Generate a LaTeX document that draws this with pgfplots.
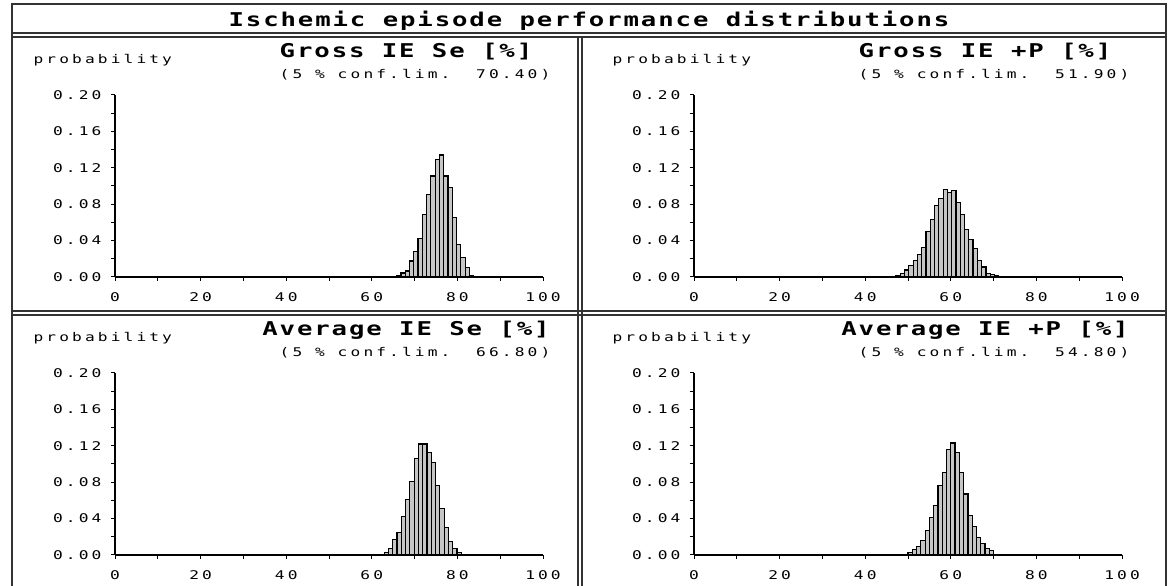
\documentclass[border=0pt]{standalone}
\usepackage{fontspec}
\usepackage{pgfplots}
\pgfplotsset{compat=1.18}
\newfontfamily\smallfont[FakeStretch=1.35,LetterSpace=26]{DejaVu Sans Mono}
\newfontfamily\bigfont[FakeStretch=1.35,LetterSpace=10]{DejaVu Sans Mono}
\newcommand\sm{\smallfont\fontsize{12}{14}\selectfont}
\newcommand\bg{\bigfont\bfseries\fontsize{19}{22}\selectfont}
\frenchspacing
\pgfplotsset{panel/.style={
  scale only axis, width=428pt, height=182pt,
  xmin=0, xmax=100, ymin=0, ymax=0.2,
  axis x line*=bottom, axis y line*=left,
  axis line style={line width=1.3pt, -},
  xtick={0,20,40,60,80,100}, minor xtick={10,30,50,70,90},
  ytick={0,0.04,0.08,0.12,0.16,0.2}, minor ytick={0.02,0.06,0.1,0.14,0.18},
  scaled y ticks=false,
  tick align=outside, major tick length=4pt, minor tick length=4pt,
  every tick/.style={black, line width=1pt},
  tick label style={font=\sm},
  /pgf/number format/assume math mode=true,
  yticklabel style={xshift=-6pt, /pgf/number format/.cd, fixed, fixed zerofill, precision=2},
  xticklabel style={yshift=-8pt, /pgf/number format/.cd, fixed, precision=0},
}}
\tikzset{bars/.style={ybar, bar width=1, fill=gray!45, draw=black, line width=1.2pt}}
\begin{document}
\begin{tikzpicture}[x=1pt,y=1pt]
\useasboundingbox (0,0) rectangle (1172,586);
\coordinate (P1) at (115,309);
\coordinate (P2) at (694,309);
\coordinate (P3) at (115,31);
\coordinate (P4) at (694,31);
% frame
\draw[line width=2pt, black!80] (12,-4) -- (12,582) -- (1166,582) -- (1166,-4);
\draw[line width=1.3pt, black!80] (12,553) -- (1166,553) (12,549) -- (1166,549);
\draw[line width=1.3pt, black!80] (578,549) -- (578,-4) (582,549) -- (582,-4);
\draw[line width=1.3pt, black!80] (12,275) -- (1166,275) (12,271) -- (1166,271);
\node[font=\bg, anchor=base] at (589,559) {Ischemic episode performance distributions};
% panel texts
\node[font=\sm, anchor=base west] at (30,522) {probability};
\node[font=\sm, anchor=base west] at (609,522) {probability};
\node[font=\sm, anchor=base west] at (30,244) {probability};
\node[font=\sm, anchor=base west] at (609,244) {probability};
\node[font=\bg, anchor=base] at (406,528) {Gross IE Se [\%]};
\node[font=\bg, anchor=base] at (985,528) {Gross IE +P [\%]};
\node[font=\bg, anchor=base] at (406,250) {Average IE Se [\%]};
\node[font=\bg, anchor=base] at (985,250) {Average IE +P [\%]};
\node[font=\sm, anchor=base] at (415,507.5) {(5 \% conf.lim.\ \ 70.40)};
\node[font=\sm, anchor=base] at (994,507.5) {(5 \% conf.lim.\ \ 51.90)};
\node[font=\sm, anchor=base] at (415,229.5) {(5 \% conf.lim.\ \ 66.80)};
\node[font=\sm, anchor=base] at (994,229.5) {(5 \% conf.lim.\ \ 54.80)};
% panel 1
\begin{axis}[panel, at={(P1)}, anchor=south west]
\addplot[bars] coordinates {
(66.3,0.001) (67.3,0.0044) (68.3,0.0066) (69.3,0.0176) (70.3,0.028) (71.3,0.042)
(72.3,0.069) (73.3,0.091) (74.3,0.111) (75.3,0.129) (76.3,0.134) (77.3,0.111)
(78.3,0.098) (79.3,0.065) (80.3,0.036) (81.3,0.021) (82.3,0.010) (83.3,0.002)};
\end{axis}
% panel 2
\begin{axis}[panel, at={(P2)}, anchor=south west]
\addplot[bars] coordinates {
(47.7,0.0018) (48.7,0.004) (49.7,0.0077) (50.7,0.0128) (51.7,0.018) (52.7,0.025)
(53.7,0.032) (54.7,0.050) (55.7,0.063) (56.7,0.079) (57.7,0.086) (58.7,0.096)
(59.7,0.093) (60.7,0.095) (61.7,0.082) (62.7,0.069) (63.7,0.052) (64.7,0.041)
(65.7,0.031) (66.7,0.018) (67.7,0.011) (68.7,0.004) (69.7,0.003) (70.7,0.001)};
\end{axis}
% panel 3
\begin{axis}[panel, at={(P3)}, anchor=south west]
\addplot[bars] coordinates {
(63.4,0.0026) (64.4,0.0073) (65.4,0.017) (66.4,0.0245) (67.4,0.042) (68.4,0.061)
(69.4,0.081) (70.4,0.106) (71.4,0.122) (72.4,0.122) (73.4,0.113) (74.4,0.102)
(75.4,0.076) (76.4,0.051) (77.4,0.030) (78.4,0.015) (79.4,0.007) (80.4,0.0026)};
\end{axis}
% panel 4
\begin{axis}[panel, at={(P4)}, anchor=south west]
\addplot[bars] coordinates {
(50.5,0.003) (51.5,0.006) (52.5,0.009) (53.5,0.016) (54.5,0.027) (55.5,0.041)
(56.5,0.054) (57.5,0.076) (58.5,0.091) (59.5,0.116) (60.5,0.123) (61.5,0.113)
(62.5,0.091) (63.5,0.067) (64.5,0.043) (65.5,0.031) (66.5,0.019) (67.5,0.013)
(68.5,0.007) (69.5,0.005)};
\end{axis}
\end{tikzpicture}
\end{document}
